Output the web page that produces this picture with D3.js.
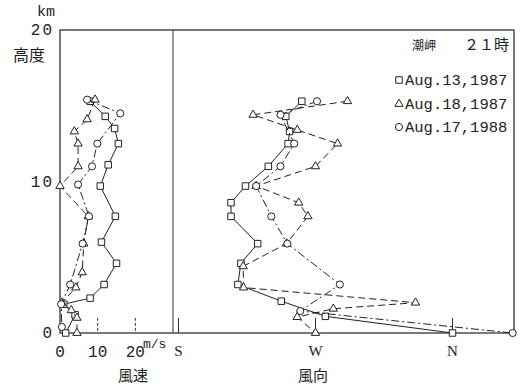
<!DOCTYPE html>
<meta charset="utf-8">
<script src="https://d3js.org/d3.v7.min.js"></script>
<style>
  body { margin: 0; background: #fff; }
  text { fill: #222; }
  .mono { font-family: "Liberation Mono", "DejaVu Sans Mono", monospace; }
  .jp { font-family: "Noto Sans CJK JP", sans-serif; }
</style>
<div id="vis"></div>
<script>

var width = 525,
    height = 385

// legend / series
var dateNames = ["Aug.13,1987", "Aug.18,1987", "Aug.17,1988"]

// ticks
var heightTicks = [0, 10, 20]
var speedTicks = [0, 10, 20]
var dirTicks = [180, 270, 360]
var dirLabels = ["S", "W", "N"]

// Aug.13,1987 (square)
var sqSpeedH = [15.3, 14.3, 13.5, 12.5, 11.1, 9.7, 7.7, 6.0, 4.6, 3.2, 2.3, 1.9, 1.2, 0]
var sqSpeed  = [8, 12, 14.5, 15.5, 12.8, 10.7, 14.7, 11, 15, 11.7, 8, 1, 4, 1.5]
var sqDirH   = [15.3, 14.3, 13.3, 12.5, 11.0, 9.7, 8.6, 7.7, 5.9, 4.6, 3.2, 2.1, 1.1, 0]
var sqDir    = [261, 250.5, 253, 252, 239, 224, 214.5, 214.5, 232, 221, 219, 247.5, 276.5, 360]

// Aug.18,1987 (triangle)
var trSpeedH = [15.4, 14.1, 13.3, 12.5, 11.0, 9.7, 7.7, 5.9, 4.0, 3.0, 2.0, 1.5, 1.0, 0]
var trSpeed  = [9.3, 7.2, 3.8, 4.8, 4.8, 0, 7.5, 6.3, 5.9, 4.2, 0.5, 3, 4.5, 4.5]
var trDirH   = [15.3, 14.4, 13.4, 12.5, 11.0, 9.7, 8.6, 7.7, 5.9, 4.4, 3.0, 2.0, 1.6, 1.05, 0]
var trDir    = [291, 229, 258, 284.5, 270, 231, 259, 265, 251, 222.5, 222.7, 335.7, 281.7, 258, 270]

// Aug.17,1988 (circle)
var ciSpeedH = [15.4, 14.5, 12.5, 11.0, 9.8, 7.7, 5.9, 3.2, 1.9, 0.4]
var ciSpeed  = [7.2, 16, 9.9, 8.5, 4.8, 7.7, 6.0, 2.7, 0.3, 0.5]
var ciDirH   = [15.3, 14.4, 12.5, 11.0, 9.7, 7.7, 5.9, 3.2, 1.45, 0]
var ciDir    = [271, 247, 256, 247, 231, 241, 251.5, 286, 260, 399.5]

var padL = 60, padR = 514, padT = 30, padB = 333, divider = 173

var svg = d3.select("#vis")
  .append("svg")
    .attr("width", width)
    .attr("height", height)

var y = d3.scaleLinear().domain([0, 20]).range([padB, padT])
var xs = d3.scaleLinear().domain([0, 30]).range([padL, divider])
var xd = d3.scaleLinear().domain([180, 360]).range([178.5, 452.5])

// frame
svg.append("rect")
  .attr("x", padL).attr("y", padT)
  .attr("width", padR - padL).attr("height", padB - padT)
  .attr("fill", "none").attr("stroke", "#222").attr("stroke-width", 1.2)
svg.append("line")
  .attr("x1", divider).attr("x2", divider)
  .attr("y1", padT).attr("y2", padB)
  .attr("stroke", "#333").attr("stroke-width", 1)

// speed ticks
svg.selectAll(".stick")
  .data(speedTicks.slice(1))
  .enter().append("line")
    .attr("x1", function(d) { return xs(d) }).attr("x2", function(d) { return xs(d) })
    .attr("y1", y(1)).attr("y2", y(0))
    .attr("stroke", "#333").attr("stroke-dasharray", "3,2")

svg.selectAll(".slab")
  .data(speedTicks)
  .enter().append("text")
    .attr("class", "mono")
    .attr("x", function(d) { return xs(d) })
    .attr("y", 357)
    .attr("text-anchor", "middle")
    .style("font-size", "16px")
    .text(function(d) { return d })

svg.append("text")
  .attr("class", "mono")
  .attr("x", 143).attr("y", 348)
  .style("font-size", "13px")
  .text("m/s")

// direction ticks
svg.selectAll(".dtick")
  .data(dirTicks)
  .enter().append("line")
    .attr("x1", function(d) { return xd(d) }).attr("x2", function(d) { return xd(d) })
    .attr("y1", y(1)).attr("y2", y(0))
    .attr("stroke", "#333")

svg.selectAll(".dlab")
  .data(dirTicks)
  .enter().append("text")
    .attr("x", function(d) { return xd(d) })
    .attr("y", 356)
    .attr("text-anchor", "middle")
    .style("font-family", "Liberation Serif, serif")
    .style("font-size", "15px")
    .text(function(d, i) { return dirLabels[i] })

// height labels
svg.selectAll(".hlab")
  .data(heightTicks)
  .enter().append("text")
    .attr("class", "mono")
    .attr("x", 54)
    .attr("y", function(d) { return y(d) + 5 })
    .attr("text-anchor", "end")
    .style("font-size", "16px")
    .style("letter-spacing", "2px")
    .text(function(d) { return d })

svg.append("text").attr("class", "mono")
  .attr("x", 55).attr("y", 16).attr("text-anchor", "end")
  .style("font-size", "15px").text("km")
svg.append("text").attr("class", "jp")
  .attr("x", 13).attr("y", 61)
  .style("font-size", "16px").text("高度")
svg.append("text").attr("class", "jp")
  .attr("x", 133).attr("y", 381).attr("text-anchor", "middle")
  .style("font-size", "15px").text("風速")
svg.append("text").attr("class", "jp")
  .attr("x", 313).attr("y", 381).attr("text-anchor", "middle")
  .style("font-size", "15px").text("風向")

// title
svg.append("text").attr("class", "jp")
  .attr("x", 412).attr("y", 50)
  .style("font-size", "12px").text("潮岬")
svg.append("text").attr("class", "jp")
  .attr("x", 509).attr("y", 50).attr("text-anchor", "end")
  .style("font-size", "15px").text("２１時")

// series
var series = [
  { sh: sqSpeedH, sv: sqSpeed, dh: sqDirH, dv: sqDir, sym: d3.symbolSquare, size: 42, dash: null },
  { sh: trSpeedH, sv: trSpeed, dh: trDirH, dv: trDir, sym: d3.symbolTriangle, size: 30, dash: "7,4" },
  { sh: ciSpeedH, sv: ciSpeed, dh: ciDirH, dv: ciDir, sym: d3.symbolCircle, size: 40, dash: "8,3,2,3" }
]

var line = d3.line()

series.forEach(function(s) {
  var sp = s.sh.map(function(h, i) { return [xs(s.sv[i]), y(h)] })
  var dp = s.dh.map(function(h, i) { return [xd(s.dv[i]), y(h)] })

  ;[sp, dp].forEach(function(pts) {
    svg.append("path")
      .attr("d", line(pts))
      .attr("fill", "none")
      .attr("stroke", "#222")
      .attr("stroke-width", 1)
      .attr("stroke-dasharray", s.dash)

    svg.selectAll(null)
      .data(pts)
      .enter().append("path")
        .attr("transform", function(d) { return "translate(" + d[0] + "," + d[1] + ")" })
        .attr("d", d3.symbol().type(s.sym).size(s.size))
        .attr("fill", "white")
        .attr("stroke", "#222")
        .attr("stroke-width", 1)
  })
})

// legend
var legY = [80, 104, 127]
series.forEach(function(s, i) {
  svg.append("path")
    .attr("transform", "translate(399," + legY[i] + ")")
    .attr("d", d3.symbol().type(s.sym).size(s.size))
    .attr("fill", "white").attr("stroke", "#222")
  svg.append("text").attr("class", "mono")
    .attr("x", 405).attr("y", legY[i] + 5)
    .style("font-size", "15.5px")
    .text(dateNames[i])
})

</script>
